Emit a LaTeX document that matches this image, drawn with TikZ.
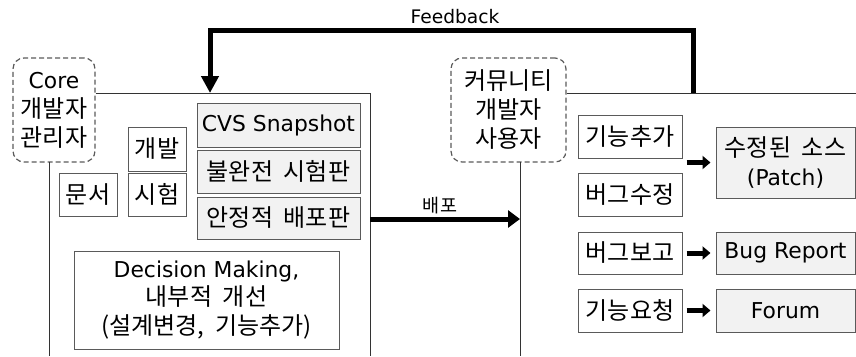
\documentclass[tikz,border=0pt]{standalone}
\usepackage{fontspec}
\setmainfont{Noto Sans CJK KR}
\newfontfamily\lat[Scale=0.91]{DejaVu Sans}
\newcommand\hsp{\hspace{0.45em}}
\usetikzlibrary{arrows.meta}
\definecolor{boxline}{HTML}{5A5A5A}
\definecolor{panelline}{HTML}{333333}
\definecolor{boxfill}{HTML}{F2F2F2}
\tikzset{
  box/.style={draw=boxline, line width=1pt, inner sep=0pt, align=center,
    font=\fontsize{24}{28.5}\selectfont},
  gbox/.style={box, fill=boxfill},
  dashbox/.style={draw=boxline, line width=1.2pt, dash pattern=on 5pt off 3pt,
    rounded corners=11pt, inner sep=0pt, align=center,
    font=\fontsize{24}{29}\selectfont, minimum height=104pt},
  panel/.style={draw=panelline, line width=1pt},
  bigarrow/.style={line width=5pt, -{Triangle[length=17pt,width=17pt]}},
  sarrow/.style={line width=5pt, -{Triangle[length=8pt,width=13pt]}},
  small/.style={font=\fontsize{18.5}{20}\selectfont, inner sep=0pt}
}
\begin{document}
\begin{tikzpicture}[x=1pt,y=-1pt]
\useasboundingbox (0,0) rectangle (856,356);
% dashed role boxes
\node[dashbox, minimum width=82pt] (core) at (54,110) {{\lat Core}\\개발자\\관리자};
\node[dashbox, minimum width=115pt] (comm) at (508.5,110) {커뮤니티\\개발자\\사용자};
% panels
\coordinate (ltop) at (370,93);
\draw[panel] (core.east |- ltop) -- (ltop) -- (370,356);
\draw[panel] (49,162) -- (49,356);
\coordinate (rin) at (520,219);
\draw[panel] (comm.east |- ltop) -- (856,93);
\draw[panel] (520,162) -- (520,356);
% left boxes
\node[box, minimum width=58pt, minimum height=44pt] (dev) at (157,149) {개발};
\node[box, minimum width=58pt, minimum height=43pt] (doc) at (88,194.5) {문서};
\node[box, minimum width=58pt, minimum height=43pt] (test) at (157,194.5) {시험};
\node[gbox, minimum width=163pt, minimum height=44pt] (cvs) at (278.5,125) {\lat CVS Snapshot};
\node[gbox, minimum width=163pt, minimum height=43pt] (beta) at (278.5,171.5) {불완전\hsp 시험판};
\node[gbox, minimum width=163pt, minimum height=42pt] (stable) at (278.5,218) {안정적\hsp 배포판};
\node[box, minimum width=265pt, minimum height=98pt] (dec) at (206.5,300)
  {{\lat Decision Making,}\\내부적\hsp 개선\\(설계변경,\hsp 기능추가)};
% right boxes
\node[box, minimum width=104pt, minimum height=43pt] (feat) at (630,136.5) {기능추가};
\node[box, minimum width=104pt, minimum height=43pt] (fix) at (630,194.5) {버그수정};
\node[box, minimum width=104pt, minimum height=42pt] (rep) at (630,253) {버그보고};
\node[box, minimum width=104pt, minimum height=43pt] (req) at (630,310.5) {기능요청};
\node[gbox, minimum width=139pt, minimum height=71pt] (patch) at (785.5,162.5) {수정된\hsp 소스\\{\lat (Patch)}};
\node[gbox, minimum width=139pt, minimum height=42pt] (bugr) at (785.5,253) {\lat Bug Report};
\node[gbox, minimum width=139pt, minimum height=43pt] (forum) at (785.5,310.5) {\lat Forum};
% small arrows
\draw[sarrow] ([xshift=4pt]feat.east |- patch.west) -- ([xshift=-5pt]patch.west);
\draw[sarrow] ([xshift=4pt]rep.east) -- ([xshift=-5pt]bugr.west);
\draw[sarrow] ([xshift=4pt]req.east) -- ([xshift=-5pt]forum.west);
% feedback
\coordinate (fbstart) at (693,93);
\coordinate (fbend) at (210,93);
\draw[bigarrow] (fbstart) -- (693,30) -- (210,30) -- (fbend);
\node[small, font=\fontsize{20.5}{22}\selectfont] (fbl) at (455,16.5) {\lat Feedback};
% release
\coordinate (lout) at (370,219);
\draw[line width=5pt, -{Triangle[length=12pt,width=17pt]}] (lout) -- (rin);
\node[small] (rel) at (440,205.5) {배포};
\end{tikzpicture}
\end{document}
